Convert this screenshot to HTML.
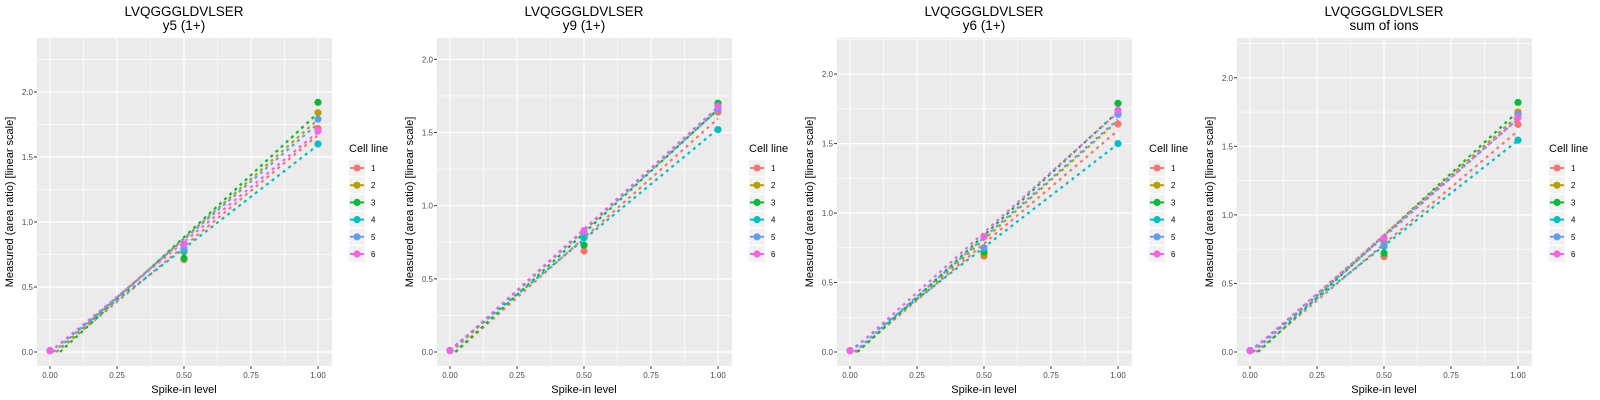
<!DOCTYPE html>
<html><head><meta charset="utf-8"><style>
html,body{margin:0;padding:0;background:#fff;}
svg{display:block;font-family:"Liberation Sans",Arial,sans-serif;}
</style></head><body>
<svg id="chart" width="1600" height="400"></svg>
<script>
const panelTitles = ["y5 (1+)", "y9 (1+)", "y6 (1+)", "sum of ions"];
const peptide = "LVQGGGLDVLSER";
const cellLines = ["1","2","3","4","5","6"];
const colors = ["#F8766D","#B79F00","#00BA38","#00BFC4","#619CFF","#F564E3"];
const spikeLevels = [0, 0.5, 1];
const xTicks = [0, 0.25, 0.5, 0.75, 1];
const xTickLabels = ["0.00","0.25","0.50","0.75","1.00"];
const yTicks = [0, 0.5, 1, 1.5, 2];
const yTickLabels = ["0.0","0.5","1.0","1.5","2.0"];
const yMax = [2.415, 2.146, 2.26, 2.29];
// measured values per panel, per cell line, at spike levels 0, 0.5, 1
const valsY5 = [[0.01,0.71,1.72],[0.01,0.77,1.84],[0.01,0.72,1.92],[0.01,0.78,1.60],[0.01,0.80,1.79],[0.01,0.83,1.70]];
const valsY9 = [[0.01,0.69,1.64],[0.01,0.80,1.69],[0.01,0.73,1.70],[0.01,0.78,1.52],[0.01,0.82,1.66],[0.01,0.83,1.68]];
const valsY6 = [[0.01,0.69,1.64],[0.01,0.70,1.72],[0.01,0.72,1.79],[0.01,0.75,1.50],[0.01,0.75,1.71],[0.01,0.83,1.74]];
const valsSum = [[0.01,0.695,1.66],[0.01,0.80,1.75],[0.01,0.72,1.82],[0.01,0.77,1.545],[0.01,0.78,1.73],[0.01,0.83,1.71]];
const panelData = [valsY5, valsY9, valsY6, valsSum];

const NS = "http://www.w3.org/2000/svg";
const svg = document.getElementById("chart");
function mk(tag, attrs, parent){const e=document.createElementNS(NS,tag);for(const k in attrs)e.setAttribute(k,attrs[k]);parent.appendChild(e);return e;}

const PL=37, PR=332, PT=38, PB=366, X0=50, X1=318, Y0=352;
panelData.forEach((data, p) => {
  const off = p*400;
  const g = mk("g",{transform:`translate(${off},0)`},svg);
  
  
  const sy = (Y0-PT)/yMax[p];
  const xs = v => X0 + v*(X1-X0);
  const ys = v => Y0 - v*sy;
  const t1 = mk("text",{x:184,y:16,"text-anchor":"middle","font-size":"13.5"},g);t1.textContent=peptide;
  
  
  const t2 = mk("text",{x:184,y:30,"text-anchor":"middle","font-size":"13.5"},g);t2.textContent=panelTitles[p];
  
  
  const bg = mk("rect",{x:PL,y:PT,width:PR-PL,height:PB-PT,fill:"#EBEBEB"},g);
  
  
  for(let i=0;i<xTicks.length-1;i++){const v=(xTicks[i]+xTicks[i+1])/2;mk("line",{x1:xs(v),x2:xs(v),y1:PT,y2:PB,stroke:"#fff","stroke-width":0.6},g);}
  for(let i=0;i<yTicks.length;i++){const v=yTicks[i]+0.25;if(ys(v)>PT)mk("line",{x1:PL,x2:PR,y1:ys(v),y2:ys(v),stroke:"#fff","stroke-width":0.6},g);}
  xTicks.forEach((v,i)=>{
    mk("line",{x1:xs(v),x2:xs(v),y1:PT,y2:PB,stroke:"#fff","stroke-width":1.2},g);
    mk("line",{x1:xs(v),x2:xs(v),y1:PB,y2:PB+3,stroke:"#333","stroke-width":1},g);
    const t=mk("text",{x:xs(v),y:PB+12,"text-anchor":"middle","font-size":"8",fill:"#4D4D4D"},g);t.textContent=xTickLabels[i];
    
    
  });
  yTicks.forEach((v,i)=>{
    mk("line",{x1:PL,x2:PR,y1:ys(v),y2:ys(v),stroke:"#fff","stroke-width":1.2},g);
    mk("line",{x1:PL-3,x2:PL,y1:ys(v),y2:ys(v),stroke:"#333","stroke-width":1},g);
    const t=mk("text",{x:PL-4,y:ys(v)+3,"text-anchor":"end","font-size":"8",fill:"#4D4D4D"},g);t.textContent=yTickLabels[i];
    
    
  });
  const xt=mk("text",{x:184,y:393,"text-anchor":"middle","font-size":"11"},g);xt.textContent="Spike-in level";
  
  
  const yt=mk("text",{x:0,y:0,"text-anchor":"middle","font-size":"11",transform:`translate(13,${(PT+PB)/2}) rotate(-90)`},g);yt.textContent="Measured (area ratio) [linear scale]";
  
  
  data.forEach((vals,c)=>{
    const n=spikeLevels.length;let mx=0,my=0;for(let i=0;i<n;i++){mx+=spikeLevels[i];my+=vals[i];}mx/=n;my/=n;
    let sxy=0,sxx=0;for(let i=0;i<n;i++){sxy+=(spikeLevels[i]-mx)*(vals[i]-my);sxx+=(spikeLevels[i]-mx)**2;}
    const b=sxy/sxx,a=my-b*mx;
    const xStart = a<0 ? -a/b : 0;
    const l=mk("line",{x1:xs(xStart),y1:ys(a+b*xStart),x2:xs(1),y2:ys(a+b),stroke:colors[c],"stroke-width":2.2,"stroke-dasharray":"3 4"},g);
    
    
  });
  data.forEach((vals,c)=>{
    vals.forEach((v,i)=>{
      const pt=mk("circle",{cx:xs(spikeLevels[i]),cy:ys(v),r:3.6,fill:colors[c]},g);
      
      
    });
  });
  const lt=mk("text",{x:349,y:152,"font-size":"11"},g);lt.textContent="Cell line";
  
  
  cellLines.forEach((cl,c)=>{
    const cy=168+c*17.2;
    const lg=mk("g",{},g);
    
    
    mk("rect",{x:349,y:cy-8,width:16,height:16,fill:"#F2F2F2"},lg);
    mk("line",{x1:350,x2:364,y1:cy,y2:cy,stroke:colors[c],"stroke-width":2},lg);
    mk("circle",{cx:357,cy:cy,r:3.6,fill:colors[c]},lg);
    const t=mk("text",{x:371,y:cy+3,"font-size":"8"},lg);t.textContent=cl;
  });
});
</script>
</body></html>
